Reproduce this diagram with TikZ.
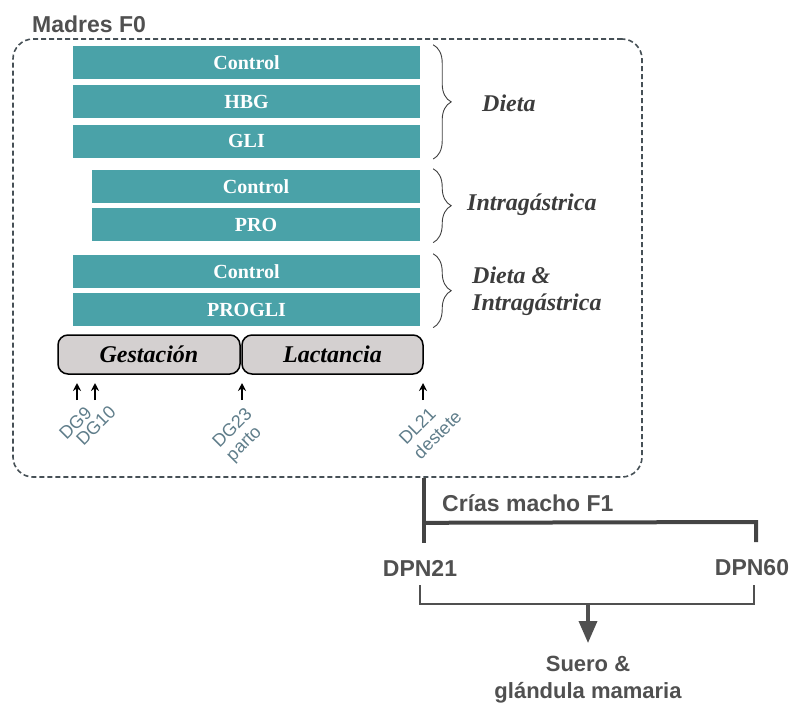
\documentclass[tikz,border=0pt]{standalone}
\usepackage{fontspec}
\setmainfont{Liberation Serif}
\setsansfont{Liberation Sans}
\usetikzlibrary{positioning,calc,arrows.meta,decorations.pathreplacing}
\definecolor{tealbox}{RGB}{74,162,168}
\definecolor{darktxt}{RGB}{80,80,80}
\definecolor{lbltxt}{RGB}{95,125,138}
\definecolor{tlfill}{RGB}{212,208,208}
\definecolor{framecol}{RGB}{70,80,86}

\begin{document}
\begin{tikzpicture}[x=1pt,y=-1pt,
	grp/.style={rectangle, fill=tealbox, text=white, minimum height=33pt, inner sep=0pt, font=\fontsize{20}{24}\selectfont\bfseries},
	wide/.style={grp, minimum width=347pt},
	narrow/.style={grp, minimum width=328pt},
	treat/.style={inner sep=0pt, align=left, text=darktxt!75!black, font=\fontsize{24}{27}\selectfont\bfseries\itshape},
	phase/.style={rectangle, rounded corners=10pt, draw=black, line width=1.5pt, fill=tlfill, minimum height=39pt, inner sep=0pt, font=\fontsize{24}{27}\selectfont\bfseries\itshape},
	day/.style={rotate=45, inner sep=0pt, text=lbltxt, font=\sffamily\fontsize{18}{20}\selectfont},
	head/.style={inner sep=0pt, text=darktxt, font=\sffamily\bfseries\fontsize{23}{27}\selectfont},
	frame/.style={draw=framecol, line width=1.6pt, dash pattern=on 5pt off 3pt, rounded corners=20pt},
	grpbrace/.style={draw=darktxt!80!black, line width=0.9pt, decorate, decoration={brace, amplitude=18pt}},
	tick/.style={-{Stealth[length=8pt,width=8pt]}, line width=2pt},
	trunk/.style={line width=4pt, draw=darktxt!85!black},
	thinln/.style={line width=1.6pt, draw=darktxt}]
	\useasboundingbox (0,0) rectangle (792,702);
	% madres F0
	\node[frame, minimum width=629pt, minimum height=438pt] (madres) at (327.5,258) {};
	\node[head, anchor=base west] (madrestit) at (32,32) {Madres F0};
	% grupos
	\node[wide] (ctrla) at (246.5,62.5) {Control};
	\node[wide, below=6pt of ctrla] (hbg) {HBG};
	\node[wide, below=6pt of hbg] (gli) {GLI};
	\node[narrow] (ctrlb) at (256,186.5) {Control};
	\node[narrow, below=5pt of ctrlb] (pro) {PRO};
	\node[wide] (ctrlc) at (246.5,271.5) {Control};
	\node[wide, below=5pt of ctrlc] (progli) {PROGLI};
	\draw[grpbrace] ($(ctrla.north east)+(13,-1)$) -- ($(gli.south east)+(13,1)$);
	\draw[grpbrace] ($(ctrlb.north east)+(13,-1)$) -- ($(pro.south east)+(13,1)$);
	\draw[grpbrace] ($(ctrlc.north east)+(13,-1)$) -- ($(progli.south east)+(13,1)$);
	\node[treat, anchor=west] (dieta) at (482,103) {Dieta};
	\node[treat, anchor=west] (intra) at (467,205) {Intragástrica};
	\node[treat, anchor=west] (ambos) at (472,291) {Dieta \&\\Intragástrica};
	% periodos
	\node[phase, minimum width=182pt] (gest) at (149,354.5) {Gestación};
	\node[phase, minimum width=181pt] (lact) at (332.5,354.5) {Lactancia};
	\coordinate (d9) at (77,400);
	\coordinate (d10) at (95,400);
	\coordinate (d23) at (242,400);
	\coordinate (d21) at (423,400);
	\foreach \t in {d9,d10,d23,d21}
		\draw[tick] (\t) -- ++(0,-17);
	\node[day, anchor=north east] (dg9) at (84,405) {DG9};
	\node[day, anchor=north east] (dg10) at (108,404) {DG10};
	\node[day, anchor=north east] (dg23) at (244,406) {DG23};
	\node[day, anchor=north west] (parto) at ($(dg23.south west)+(-45:7pt)$) {parto};
	\node[day, anchor=north east] (dl21) at (428,406) {DL21};
	\node[day, anchor=north west] (destete) at ($(dl21.south west)+(-45:7pt)$) {destete};
	% crias F1
	\coordinate (split) at (madres.south -| lact.east);
	\coordinate (j1) at ($(split)+(0,45)$);
	\coordinate (j2) at (756,522);
	\draw[trunk] (split) -- ++(0,65);
	\draw[trunk] (j1) -- (j2) -- ++(0,20);
	\node[head, anchor=base west] (crias) at (442,511) {Crías macho F1};
	\node[head] (dpn21) at (420,568) {DPN21};
	\node[head] (dpn60) at (752,568) {DPN60};
	\draw[thinln] ($(dpn21.south)+(0,9)$) -- ++(0,19) -| ($(dpn60.south)+(2,9)$);
	\coordinate (mid) at ($(dpn21.south)!0.5!(dpn60.south)+(2,28)$);
	\node[head, font=\sffamily\bfseries\fontsize{22}{27}\selectfont, align=center, anchor=north] (suero) at (588,656) {Suero \&\\glándula mamaria};
	\draw[-{Triangle[width=18pt,length=22pt]}, line width=3.5pt, draw=darktxt, shorten >=13pt] (mid) -- (mid |- suero.north);
\end{tikzpicture}
\end{document}
